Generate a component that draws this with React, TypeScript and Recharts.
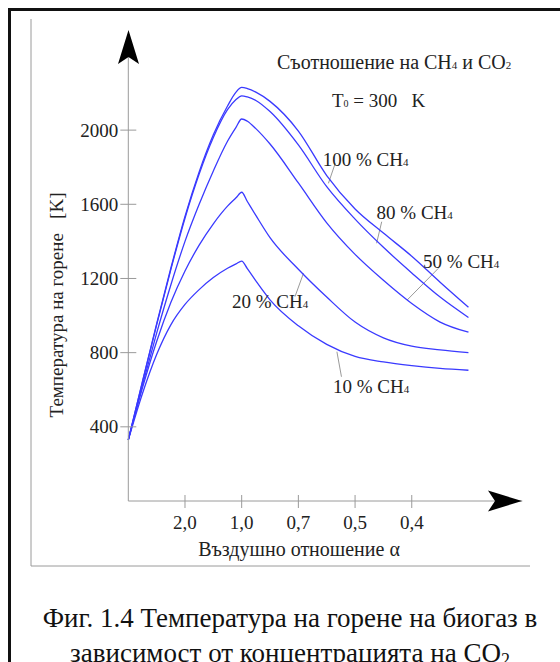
import React from "react";
import { LineChart, Line, XAxis, YAxis, ReferenceLine, ReferenceDot } from "recharts";

// air ratio axis positions (1..5 are the labelled ticks)
const xs = [0, 0.25, 0.5, 0.75, 1, 1.25, 1.5, 1.75, 1.9, 2, 2.1, 2.25, 2.5, 3, 3.5, 4, 4.5, 5, 5.5, 6];
const tickPositions = [1, 2, 3, 4, 5];
const tickLabels = ["2,0", "1,0", "0,7", "0,5", "0,4"];
const yTicks = [400, 800, 1200, 1600, 2000];

// combustion temperature, K
const ch100 = [330, 645, 955, 1255, 1535, 1775, 1975, 2130, 2205, 2230, 2224, 2205, 2155, 1995, 1755, 1575, 1445, 1320, 1180, 1045];
const ch80 = [330, 642, 950, 1248, 1525, 1763, 1960, 2110, 2165, 2185, 2179, 2160, 2100, 1920, 1695, 1520, 1368, 1230, 1100, 990];
const ch50 = [330, 625, 905, 1165, 1400, 1600, 1780, 1940, 2015, 2060, 2048, 2008, 1925, 1715, 1500, 1330, 1190, 1065, 965, 910];
const ch20 = [330, 610, 860, 1070, 1240, 1380, 1495, 1590, 1635, 1665, 1615, 1540, 1420, 1250, 1100, 965, 880, 835, 815, 800];
const ch10 = [330, 580, 790, 950, 1060, 1140, 1205, 1255, 1279, 1294, 1253, 1187, 1085, 945, 845, 780, 750, 730, 715, 705];

// curve labels: label x, label y, leader from x, from y, to x, to y
const labelNames = ["100", "80", "50", "20", "10"];
const labelPos = [
  [3.43, 1806, 3.65, 1821, 3.53, 1713],
  [4.38, 1521, 4.47, 1506, 4.38, 1390],
  [5.2, 1256, 5.47, 1255, 4.92, 1084],
  [1.83, 1041, 2.94, 1102, 3.09, 1228],
  [3.61, 582, 3.76, 670, 3.68, 805],
];

const data = xs.map((x, i) => ({
  x,
  ch100: ch100[i],
  ch80: ch80[i],
  ch50: ch50[i],
  ch20: ch20[i],
  ch10: ch10[i],
}));

const FONT = '"Liberation Serif", "Times New Roman", serif';
const BLUE = "#3a3aff";
const GRAY = "#9a9a9a";

const YTick = ({ x, y, payload }: any) => (
  <g>
    <line x1={x - 8} x2={x + 8} y1={y} y2={y} stroke={GRAY} />
    <text x={x - 10} y={y} dy="0.35em" textAnchor="end" fontFamily={FONT} fontSize={19} fill="#222">
      {payload.value}
    </text>
  </g>
);

const XTick = ({ x, y, payload }: any) => (
  <g>
    <line x1={x} x2={x} y1={y - 6} y2={y + 7} stroke={GRAY} />
    <text x={x} y={y + 28} textAnchor="middle" fontFamily={FONT} fontSize={19} fill="#222">
      {tickLabels[tickPositions.indexOf(payload.value)]}
    </text>
  </g>
);

const curveLabel = (name: string) => (p: any) => (
  <text x={p.cx} y={p.cy} fontFamily={FONT} fontSize={19} fill="#222">
    {name} % CH<tspan fontSize={11}>4</tspan>
  </text>
);

export default function App() {
  return (
    <div
      style={{
        position: "absolute",
        left: 0,
        top: 0,
        width: 560,
        height: 662,
        background: "#fff",
        overflow: "hidden",
        fontFamily: FONT,
      }}
    >
      <div
        style={{
          position: "absolute",
          left: 8,
          top: 8,
          width: 620,
          height: 720,
          border: "3px solid #111",
          boxSizing: "border-box",
        }}
      />
      <svg width={560} height={662} style={{ position: "absolute", left: 0, top: 0 }}>
        <line x1={31} x2={31} y1={19} y2={566} stroke={GRAY} />
        <line x1={31} x2={530} y1={566} y2={566} stroke={GRAY} />
      </svg>
      <div style={{ position: "absolute", left: 0, top: 0 }}>
        <LineChart width={560} height={662} data={data} margin={{ top: 37.4, right: 37.7, bottom: 121, left: 0 }}>
          <XAxis
            dataKey="x"
            type="number"
            domain={[0, 6.95]}
            ticks={tickPositions}
            tick={<XTick />}
            tickSize={0}
            tickMargin={0}
            tickLine={false}
            axisLine={{ stroke: GRAY }}
            height={40}
          />
          <YAxis
            type="number"
            domain={[0, 2500]}
            ticks={yTicks}
            tick={<YTick />}
            tickSize={0}
            tickMargin={0}
            tickLine={false}
            axisLine={{ stroke: GRAY }}
            width={128.3}
          />
          {labelPos.map((l, i) => (
            <ReferenceLine
              key={"l" + i}
              segment={[
                { x: l[2], y: l[3] },
                { x: l[4], y: l[5] },
              ]}
              stroke={GRAY}
              strokeWidth={1}
            />
          ))}
          <Line type="monotone" dataKey="ch100" stroke={BLUE} strokeWidth={1.3} dot={false} isAnimationActive={false} />
          <Line type="monotone" dataKey="ch80" stroke={BLUE} strokeWidth={1.3} dot={false} isAnimationActive={false} />
          <Line type="monotone" dataKey="ch50" stroke={BLUE} strokeWidth={1.3} dot={false} isAnimationActive={false} />
          <Line type="monotone" dataKey="ch20" stroke={BLUE} strokeWidth={1.3} dot={false} isAnimationActive={false} />
          <Line type="monotone" dataKey="ch10" stroke={BLUE} strokeWidth={1.3} dot={false} isAnimationActive={false} />
          {labelPos.map((l, i) => (
            <ReferenceDot key={"t" + i} x={l[0]} y={l[1]} r={0} shape={curveLabel(labelNames[i])} />
          ))}
        </LineChart>
      </div>
      <svg width={560} height={662} style={{ position: "absolute", left: 0, top: 0, pointerEvents: "none" }}>
        <polygon points="128.5,30 118,64 128.5,57 139,64" fill="#000" />
        <polygon points="522,501 488,490.5 495,501 488,511.5" fill="#000" />
        <text x={277} y={69} fontFamily={FONT} fontSize={20} fill="#222">
          Съотношение на CH<tspan fontSize={11}>4</tspan> и CO<tspan fontSize={11}>2</tspan>
        </text>
        <text x={332} y={107} fontFamily={FONT} fontSize={19} fill="#222" style={{ whiteSpace: "pre" }}>
          T<tspan fontSize={10}>0</tspan>{" = 300   K"}
        </text>
        <text
          transform="translate(63 305) rotate(-90)"
          textAnchor="middle"
          fontFamily={FONT}
          fontSize={19}
          fill="#222"
          style={{ whiteSpace: "pre" }}
        >
          {"Температура на горене   [K]"}
        </text>
        <text x={299} y={556} textAnchor="middle" fontFamily={FONT} fontSize={20} fill="#222">
          Въздушно отношение α
        </text>
        <text x={290} y={627} textAnchor="middle" fontFamily={FONT} fontSize={27} fill="#111">
          Фиг. 1.4 Температура на горене на биогаз в
        </text>
        <text x={290} y={662} textAnchor="middle" fontFamily={FONT} fontSize={27} fill="#111">
          зависимост от концентрацията на CO<tspan fontSize={18} dy={4}>2</tspan>
        </text>
      </svg>
    </div>
  );
}
